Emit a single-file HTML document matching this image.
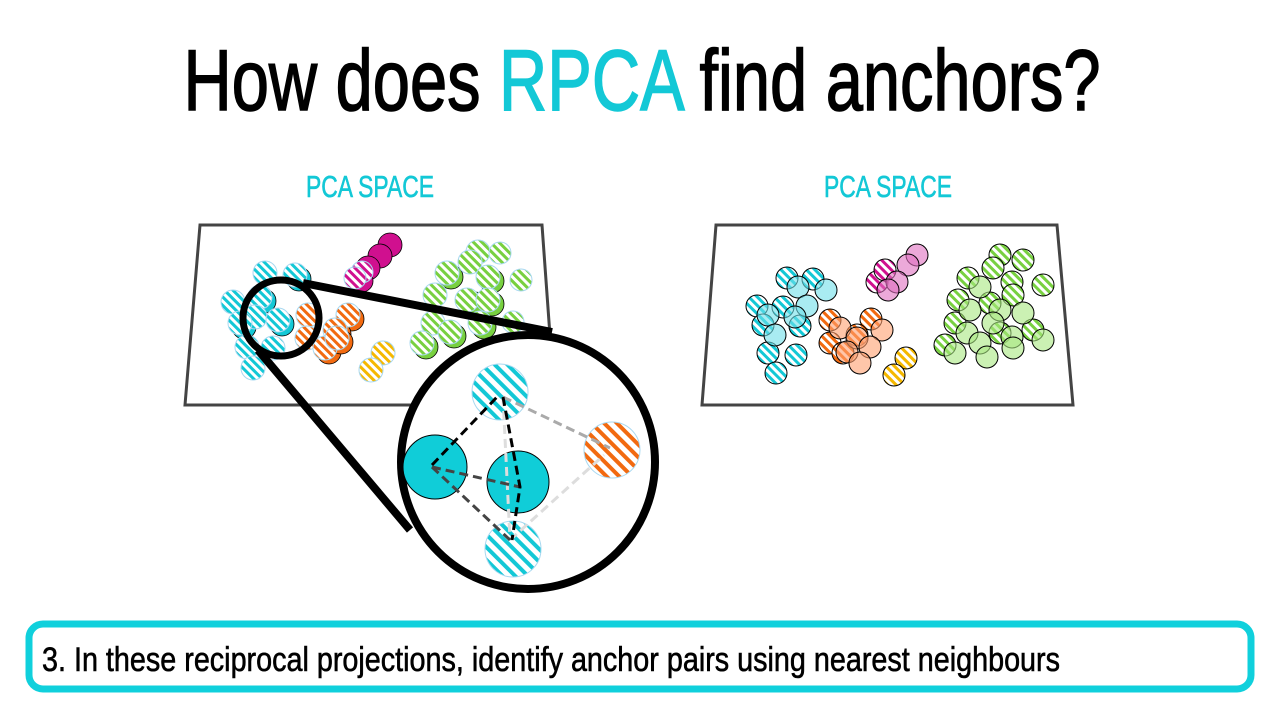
<!DOCTYPE html>
<html><head><meta charset="utf-8"><style>
html,body{margin:0;padding:0;background:#fff;}
svg{display:block;}
text{font-family:"Liberation Sans Narrow","Liberation Sans",sans-serif;}
</style></head><body>
<svg width="1280" height="720" viewBox="0 0 1280 720" xmlns="http://www.w3.org/2000/svg">
<defs>
<pattern id="hc" width="6" height="6" patternUnits="userSpaceOnUse" patternTransform="rotate(-45)"><rect width="6" height="6" fill="#fff"/><rect width="3" height="6" fill="#13c8d6"/></pattern>
<pattern id="ho" width="6" height="6" patternUnits="userSpaceOnUse" patternTransform="rotate(-45)"><rect width="6" height="6" fill="#fff"/><rect width="3" height="6" fill="#f26a10"/></pattern>
<pattern id="hy" width="6" height="6" patternUnits="userSpaceOnUse" patternTransform="rotate(-45)"><rect width="6" height="6" fill="#fff"/><rect width="3" height="6" fill="#f5b800"/></pattern>
<pattern id="hm" width="6" height="6" patternUnits="userSpaceOnUse" patternTransform="rotate(-45)"><rect width="6" height="6" fill="#fff"/><rect width="3" height="6" fill="#d0108f"/></pattern>
<pattern id="hg" width="6" height="6" patternUnits="userSpaceOnUse" patternTransform="rotate(-45)"><rect width="6" height="6" fill="#fff"/><rect width="3" height="6" fill="#78d040"/></pattern>
<pattern id="hc2" width="9" height="9" patternUnits="userSpaceOnUse" patternTransform="rotate(-45)"><rect width="9" height="9" fill="#fff"/><rect width="4" height="9" fill="#13c8d6"/></pattern>
<pattern id="ho2" width="9" height="9" patternUnits="userSpaceOnUse" patternTransform="rotate(-45)"><rect width="9" height="9" fill="#fff"/><rect width="4" height="9" fill="#f26a10"/></pattern>
</defs>

<text x="642" y="110" font-size="86" text-anchor="middle" textLength="917" lengthAdjust="spacingAndGlyphs" fill="#000" stroke="#000" stroke-width="1.5">How does <tspan fill="#13c8d6" stroke="#13c8d6">RPCA</tspan> find anchors?</text>
<text x="370" y="197" font-size="31" text-anchor="middle" textLength="128" lengthAdjust="spacingAndGlyphs" fill="#13c8d6" stroke="#13c8d6" stroke-width="0.6">PCA SPACE</text>
<text x="888" y="197" font-size="31" text-anchor="middle" textLength="128" lengthAdjust="spacingAndGlyphs" fill="#13c8d6" stroke="#13c8d6" stroke-width="0.6">PCA SPACE</text>

<!-- left panel -->
<polygon points="200,225 542,225 555,405 185,405" fill="#fff" stroke="#444" stroke-width="3"/>
<g stroke="#a8d8f0" stroke-width="1">
<g fill="#13c8d6" stroke="#000" stroke-width="0.8">
<circle cx="299" cy="279" r="12"/><circle cx="264" cy="301" r="12"/><circle cx="244" cy="327" r="12"/><circle cx="282" cy="324" r="12"/>
</g>
<g fill="#f26a10" stroke="#000" stroke-width="0.8">
<circle cx="352" cy="319" r="12"/><circle cx="339" cy="334" r="12"/><circle cx="329" cy="352" r="12"/><circle cx="341" cy="342" r="12"/>
</g>
<g fill="#d0108f" stroke="#000" stroke-width="0.8">
<circle cx="390" cy="245" r="12"/><circle cx="380" cy="256" r="12"/><circle cx="368" cy="268" r="12"/><circle cx="362" cy="281" r="11"/>
</g>
<g fill="#78d040" stroke="#000" stroke-width="0.8">
<circle cx="451" cy="277" r="12"/><circle cx="492" cy="281" r="12"/><circle cx="475" cy="304" r="12"/><circle cx="492" cy="304" r="12"/><circle cx="426" cy="347" r="12"/><circle cx="484" cy="327" r="12"/><circle cx="454" cy="336" r="12"/>
</g>
<g fill="url(#hc)">
<circle cx="265" cy="273" r="12"/><circle cx="295" cy="275" r="12"/><circle cx="233" cy="302" r="12"/><circle cx="260" cy="297" r="12"/><circle cx="255" cy="317" r="12"/><circle cx="278" cy="320" r="12"/><circle cx="240" cy="323" r="12"/><circle cx="247" cy="347" r="12"/><circle cx="273" cy="348" r="12"/><circle cx="253" cy="368" r="12"/>
</g>
<g fill="url(#ho)">
<circle cx="308" cy="315" r="12"/><circle cx="348" cy="315" r="12"/><circle cx="335" cy="330" r="12"/><circle cx="307" cy="338" r="12"/><circle cx="325" cy="348" r="12"/><circle cx="337" cy="338" r="12"/>
</g>
<g fill="url(#hy)"><circle cx="383" cy="353" r="12"/><circle cx="371" cy="370" r="12"/></g>
<g fill="url(#hm)"><circle cx="362" cy="272" r="11"/><circle cx="355" cy="278" r="11"/></g>
<g fill="url(#hg)">
<circle cx="478" cy="252" r="12"/><circle cx="500" cy="253" r="11"/><circle cx="470" cy="262" r="12"/><circle cx="447" cy="273" r="12"/><circle cx="488" cy="277" r="12"/><circle cx="521" cy="280" r="11"/><circle cx="435" cy="295" r="12"/><circle cx="467" cy="300" r="12"/><circle cx="488" cy="300" r="12"/><circle cx="433" cy="323" r="12"/><circle cx="450" cy="332" r="12"/><circle cx="422" cy="343" r="12"/><circle cx="480" cy="323" r="12"/><circle cx="513" cy="322" r="11"/>
</g>
</g>

<!-- magnifier -->
<line x1="303" y1="283" x2="552" y2="332" stroke="#000" stroke-width="8"/>
<line x1="258" y1="350" x2="410" y2="530" stroke="#000" stroke-width="8"/>
<circle cx="281" cy="318" r="38" fill="none" stroke="#000" stroke-width="7"/>
<circle cx="528" cy="462" r="127" fill="#fff" stroke="#000" stroke-width="8"/>
<circle cx="500" cy="392" r="28" fill="url(#hc2)" stroke="#a8d8f0"/>
<circle cx="612" cy="450" r="28" fill="url(#ho2)" stroke="#a8d8f0"/>
<circle cx="513" cy="549" r="28" fill="url(#hc2)" stroke="#a8d8f0"/>
<circle cx="435" cy="467" r="32" fill="#10cdd8" stroke="#000" stroke-width="1"/>
<circle cx="518" cy="482" r="31" fill="#10cdd8" stroke="#000" stroke-width="1"/>
<g fill="none" stroke-width="3" stroke-dasharray="9,5">
<polyline points="503,397 510,540" stroke="#ddd"/>
<polyline points="510,540 604,455" stroke="#ddd"/>
<polyline points="503,397 610,448" stroke="#aaa"/>
<polyline points="432,467 520,487" stroke="#444"/>
<polyline points="432,467 510,540" stroke="#444"/>
<polyline points="432,465 497,397" stroke="#000"/>
<polyline points="503,397 520,487 512,540" stroke="#000"/>
</g>

<!-- right panel -->
<polygon points="716,225 1057,225 1073,405 702,405" fill="#fff" stroke="#444" stroke-width="3"/>
<g stroke="#000" stroke-width="1">
<g fill="url(#hc)"><circle cx="787" cy="278" r="11"/><circle cx="813" cy="279" r="11"/><circle cx="757" cy="306" r="11"/><circle cx="783" cy="307" r="11"/><circle cx="763" cy="325" r="11"/><circle cx="800" cy="326" r="11"/><circle cx="768" cy="353" r="11"/><circle cx="796" cy="355" r="11"/><circle cx="776" cy="373" r="11"/></g>
<g fill="#6fe0ea" fill-opacity="0.6"><circle cx="798" cy="287" r="11"/><circle cx="826" cy="290" r="11"/><circle cx="807" cy="306" r="11"/><circle cx="768" cy="315" r="11"/><circle cx="795" cy="317" r="11"/><circle cx="775" cy="335" r="11"/></g>
<g fill="url(#ho)"><circle cx="830" cy="320" r="11"/><circle cx="871" cy="319" r="11"/><circle cx="830" cy="343" r="11"/><circle cx="857" cy="335" r="11"/><circle cx="843" cy="353" r="11"/></g>
<g fill="#ffa070" fill-opacity="0.6"><circle cx="840" cy="328" r="11"/><circle cx="882" cy="330" r="11"/><circle cx="857" cy="338" r="11"/><circle cx="870" cy="347" r="11"/><circle cx="847" cy="352" r="11"/><circle cx="860" cy="363" r="11"/></g>
<g fill="url(#hy)"><circle cx="906" cy="358" r="11"/><circle cx="894" cy="375" r="11"/></g>
<g fill="url(#hm)"><circle cx="877" cy="282" r="11"/><circle cx="885" cy="270" r="11"/></g>
<g fill="#e070c0" fill-opacity="0.6"><circle cx="917" cy="255" r="11"/><circle cx="908" cy="265" r="11"/><circle cx="897" cy="282" r="11"/><circle cx="888" cy="290" r="11"/></g>
<g fill="url(#hg)"><circle cx="1000" cy="255" r="11"/><circle cx="1023" cy="260" r="11"/><circle cx="993" cy="268" r="11"/><circle cx="968" cy="278" r="11"/><circle cx="1012" cy="282" r="11"/><circle cx="1043" cy="285" r="11"/><circle cx="958" cy="300" r="11"/><circle cx="1013" cy="295" r="11"/><circle cx="955" cy="323" r="11"/><circle cx="990" cy="303" r="11"/><circle cx="1033" cy="330" r="11"/><circle cx="945" cy="345" r="11"/><circle cx="1000" cy="333" r="11"/></g>
<g fill="#a8e880" fill-opacity="0.6"><circle cx="980" cy="287" r="11"/><circle cx="970" cy="310" r="11"/><circle cx="1000" cy="310" r="11"/><circle cx="1023" cy="313" r="11"/><circle cx="967" cy="333" r="11"/><circle cx="993" cy="323" r="11"/><circle cx="1012" cy="337" r="11"/><circle cx="1043" cy="340" r="11"/><circle cx="955" cy="353" r="11"/><circle cx="980" cy="343" r="11"/><circle cx="987" cy="357" r="11"/><circle cx="1013" cy="348" r="11"/></g>
</g>

<!-- bottom box -->
<rect x="29" y="624" width="1222" height="65" rx="14" ry="14" fill="#fff" stroke="#10d0dc" stroke-width="7"/>
<text x="42" y="671" font-size="34" textLength="1018" lengthAdjust="spacingAndGlyphs" fill="#000" stroke="#000" stroke-width="0.6">3. In these reciprocal projections, identify anchor pairs using nearest neighbours</text>
</svg>
</body></html>
